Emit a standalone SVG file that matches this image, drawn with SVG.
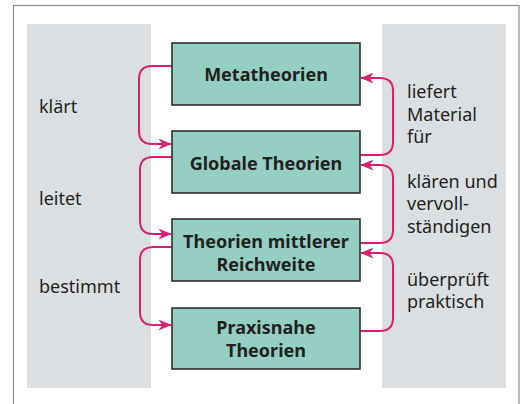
<svg xmlns="http://www.w3.org/2000/svg" width="520" height="404" viewBox="0 0 520 404">
<style>
.frame{fill:#fff;stroke:#8a8a8a;stroke-width:1.2}
.panel{fill:#dcdfe2}
.box{fill:#95cfc4;stroke:#2e2e2e;stroke-width:1.6}
.bt{font-family:"Noto Sans","Open Sans",sans-serif;font-weight:bold;font-size:18px;fill:#231f20;text-anchor:middle}
.lt{font-family:"Noto Sans","Open Sans",sans-serif;font-size:18px;fill:#231f20}
.con{fill:none;stroke:#d81f72;stroke-width:2}
</style>
<defs>
<marker id="ah" viewBox="0 0 12 10" refX="11.5" refY="5" markerWidth="13" markerHeight="11" markerUnits="userSpaceOnUse" orient="auto">
<path d="M0,0 L12,5 L0,10 L3.5,5 Z" fill="#d81f72"/>
</marker>
</defs>
<rect class="frame" x="13.5" y="5.5" width="505.5" height="410"/>
<rect class="panel" x="27" y="24" width="124" height="364"/>
<rect class="panel" x="382" y="24" width="124" height="364"/>
<g id="connectors">
<path class="con" marker-end="url(#ah)" d="M172,66 H152 Q139,66 139,79 V131 Q139,144 152,144 H171"/>
<path class="con" marker-end="url(#ah)" d="M172,157 H153 Q140,157 140,170 V221 Q140,234 153,234 H171"/>
<path class="con" marker-end="url(#ah)" d="M172,247 H153 Q140,247 140,260 V312 Q140,325 153,325 H171"/>
<path class="con" marker-end="url(#ah)" d="M360,155 H380 Q393,155 393,142 V91 Q393,78 380,78 H361"/>
<path class="con" marker-end="url(#ah)" d="M360,243 H380 Q393,243 393,230 V178 Q393,165 380,165 H361"/>
<path class="con" marker-end="url(#ah)" d="M360,331 H380 Q393,331 393,318 V266 Q393,253 380,253 H361"/>
</g>
<g id="n1"><rect class="box" x="172" y="43" width="188" height="62"/><text class="bt" x="266" y="81">Metatheorien</text></g>
<g id="n2"><rect class="box" x="172" y="131" width="188" height="62"/><text class="bt" x="266" y="170">Globale Theorien</text></g>
<g id="n3"><rect class="box" x="172" y="219" width="188" height="62"/><text class="bt" x="266" y="248">Theorien mittlerer</text><text class="bt" x="266" y="271">Reichweite</text></g>
<g id="n4"><rect class="box" x="172" y="308" width="188" height="61"/><text class="bt" x="266" y="334">Praxisnahe</text><text class="bt" x="266" y="357">Theorien</text></g>
<g id="labels">
<text class="lt" x="39" y="113">klärt</text>
<text class="lt" x="39" y="205">leitet</text>
<text class="lt" x="39" y="293">bestimmt</text>
<text class="lt" x="407" y="98">liefert</text>
<text class="lt" x="407" y="121">Material</text>
<text class="lt" x="407" y="143">für</text>
<text class="lt" x="407" y="188">klären und</text>
<text class="lt" x="407" y="210">vervoll-</text>
<text class="lt" x="407" y="233">ständigen</text>
<text class="lt" x="407" y="286">überprüft</text>
<text class="lt" x="407" y="308">praktisch</text>
</g>
</svg>
